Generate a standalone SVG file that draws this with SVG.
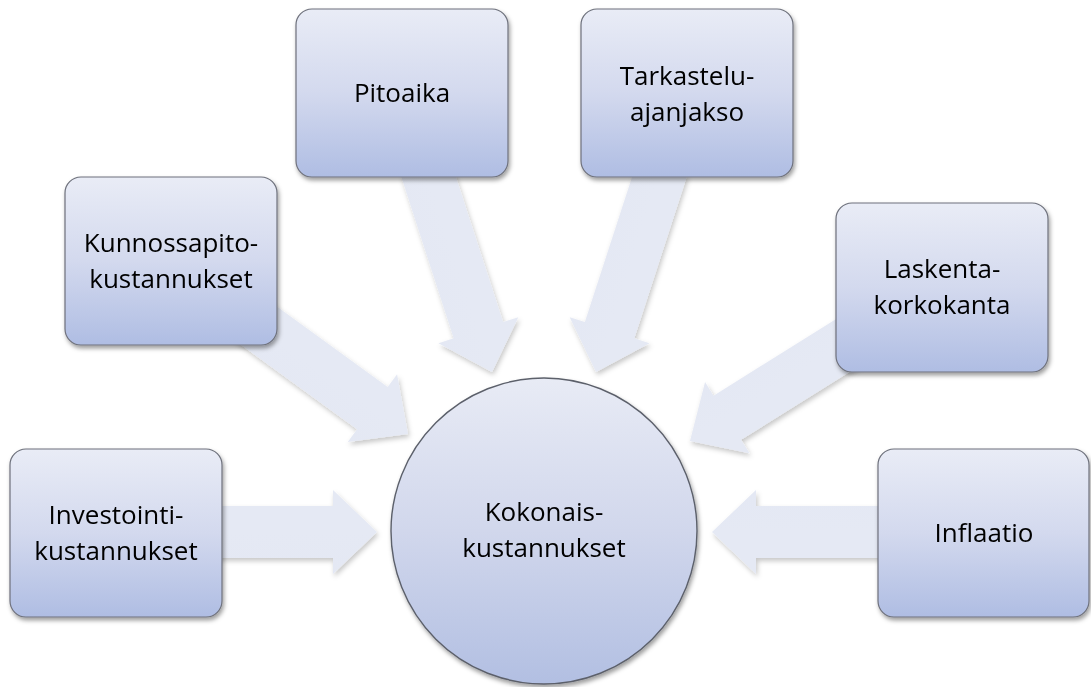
<svg xmlns="http://www.w3.org/2000/svg" width="1091" height="687" viewBox="0 0 1091 687">
  <defs>
    <linearGradient id="gBox" x1="0" y1="0" x2="0" y2="1">
      <stop offset="0" stop-color="#e9ecf6"/>
      <stop offset="0.5" stop-color="#d3d9ee"/>
      <stop offset="1" stop-color="#afbde3"/>
    </linearGradient>
    <linearGradient id="gCircle" x1="0" y1="0" x2="0" y2="1">
      <stop offset="0" stop-color="#e8ebf5"/>
      <stop offset="0.5" stop-color="#d1d7ec"/>
      <stop offset="1" stop-color="#b2bfe2"/>
    </linearGradient>
    <linearGradient id="gArrow" gradientUnits="userSpaceOnUse" x1="0" y1="0" x2="0" y2="687">
      <stop offset="0" stop-color="#e5e9f4"/>
      <stop offset="1" stop-color="#d2d8ee"/>
    </linearGradient>
    <filter id="shBox" x="-10%" y="-10%" width="125%" height="130%">
      <feDropShadow dx="1.5" dy="3" stdDeviation="2.2" flood-color="#000" flood-opacity="0.38"/>
    </filter>
    <filter id="shArrow" x="-20%" y="-20%" width="140%" height="140%">
      <feDropShadow dx="1.5" dy="3" stdDeviation="2.5" flood-color="#000" flood-opacity="0.22"/>
    </filter>
    <polygon id="arrowShape" points="0,0 -44,-42 -44,-26 -215,-26 -215,26 -44,26 -44,42"/>
  </defs>
  <style>
    .box { fill: url(#gBox); stroke: #6e717c; stroke-width: 1.2; }
    .hub { fill: url(#gCircle); stroke: #5c606b; stroke-width: 1.4; }
    .arrow { fill: url(#gArrow); }
    .lbl { font-family: "Open Sans", "Liberation Sans", sans-serif; font-size: 26px; fill: #000; text-anchor: middle; }
  </style>
  <rect width="1091" height="687" fill="#ffffff"/>

  <g id="connectors">
    <g filter="url(#shArrow)"><use href="#arrowShape" class="arrow" transform="translate(377,532) rotate(0)"/></g>
    <g filter="url(#shArrow)"><use href="#arrowShape" class="arrow" transform="translate(408,434) rotate(36)"/></g>
    <g filter="url(#shArrow)"><use href="#arrowShape" class="arrow" transform="translate(492,372) rotate(72)"/></g>
    <g filter="url(#shArrow)"><use href="#arrowShape" class="arrow" transform="translate(596,372) rotate(108)"/></g>
    <g filter="url(#shArrow)"><use href="#arrowShape" class="arrow" transform="translate(690,441) rotate(148)"/></g>
    <g filter="url(#shArrow)"><use href="#arrowShape" class="arrow" transform="translate(712,532) rotate(180)"/></g>
  </g>

  <g id="node-kokonais" filter="url(#shBox)">
    <circle class="hub" cx="544" cy="531" r="153"/>
    <text class="lbl" x="544" y="521">Kokonais-</text>
    <text class="lbl" x="544" y="557">kustannukset</text>
  </g>

  <g id="node-investointi" filter="url(#shBox)">
    <rect class="box" x="10" y="449" width="212" height="168" rx="16"/>
    <text class="lbl" x="116" y="524">Investointi-</text>
    <text class="lbl" x="116" y="560">kustannukset</text>
  </g>

  <g id="node-kunnossapito" filter="url(#shBox)">
    <rect class="box" x="65" y="177" width="212" height="168" rx="16"/>
    <text class="lbl" x="171" y="252">Kunnossapito-</text>
    <text class="lbl" x="171" y="288">kustannukset</text>
  </g>

  <g id="node-pitoaika" filter="url(#shBox)">
    <rect class="box" x="296" y="9" width="212" height="168" rx="16"/>
    <text class="lbl" x="402" y="102">Pitoaika</text>
  </g>

  <g id="node-tarkastelu" filter="url(#shBox)">
    <rect class="box" x="581" y="9" width="212" height="168" rx="16"/>
    <text class="lbl" x="687" y="85">Tarkastelu-</text>
    <text class="lbl" x="687" y="121">ajanjakso</text>
  </g>

  <g id="node-laskenta" filter="url(#shBox)">
    <rect class="box" x="836" y="203" width="212" height="169" rx="16"/>
    <text class="lbl" x="942" y="278">Laskenta-</text>
    <text class="lbl" x="942" y="314">korkokanta</text>
  </g>

  <g id="node-inflaatio" filter="url(#shBox)">
    <rect class="box" x="878" y="449" width="211" height="168" rx="16"/>
    <text class="lbl" x="984" y="542">Inflaatio</text>
  </g>
</svg>
